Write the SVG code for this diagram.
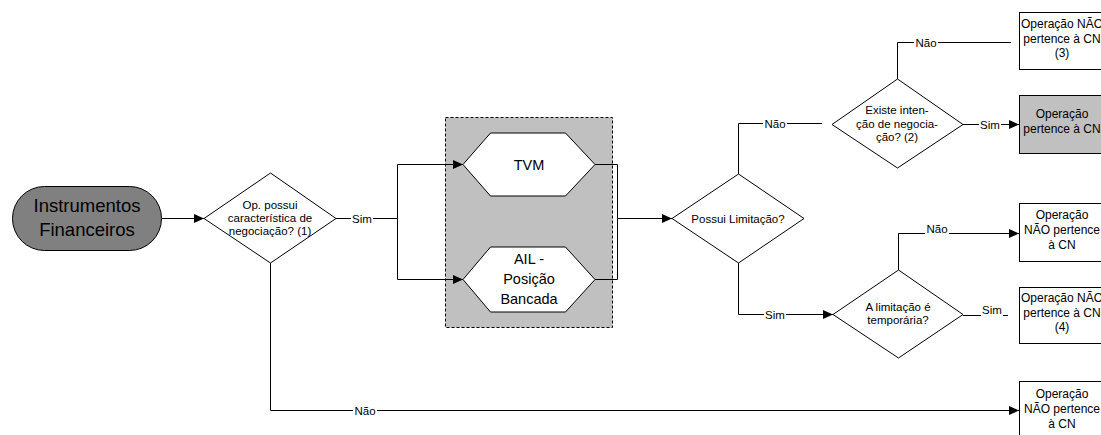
<svg xmlns="http://www.w3.org/2000/svg" width="1101" height="435" viewBox="0 0 1101 435">
  <style>
    .shape { stroke: #000; stroke-width: 1; }
    .white { fill: #fff; }
    .gray { fill: #c0c0c0; }
    .dark { fill: #808080; }
    .line { fill: none; stroke: #000; stroke-width: 1; }
    .arrow { marker-end: url(#head); }
    text { font-family: "Liberation Sans", Arial, sans-serif; fill: #000; text-anchor: middle; }
    .t115 { font-size: 11.5px; }
    .t12 { font-size: 12px; }
    .t14 { font-size: 14.5px; }
    .t19 { font-size: 18.5px; }
    .lbl { font-size: 11.5px; }
    .lblbg { fill: #fff; }
  </style>
  <defs>
    <marker id="head" markerUnits="userSpaceOnUse" markerWidth="11" markerHeight="9" refX="10" refY="4.5" orient="auto">
      <path d="M0,0 L10,4.5 L0,9 z" fill="#000"/>
    </marker>
  </defs>

  <!-- grouping frame around the two asset classes -->
  <g id="group-box">
    <rect x="445.5" y="117.5" width="167" height="210" class="gray" stroke="#000" stroke-width="1" stroke-dasharray="3,2"/>
  </g>

  <!-- connectors -->
  <g id="connectors">
    <path class="line arrow" d="M162,218.5 H204"/>
    <path class="line" d="M336,218.5 H397.5"/>
    <path class="line" d="M397.5,164.5 V279.5"/>
    <path class="line arrow" d="M397.5,164.5 H463"/>
    <path class="line arrow" d="M397.5,279.5 H463"/>
    <path class="line" d="M595,164.5 H617.5 V279.5 H595"/>
    <path class="line arrow" d="M617.5,218.5 H672"/>
    <path class="line" d="M738.5,174 V123.5 H822"/>
    <path class="line arrow" d="M738.5,263 V314.5 H833"/>
    <path class="line" d="M897.5,79 V42.5 H1011"/>
    <path class="line arrow" d="M963,124.5 H1019"/>
    <path class="line arrow" d="M898.5,270 V233.5 H1019"/>
    <path class="line" d="M963,315.5 H1008"/>
    <path class="line arrow" d="M270.5,263 V410.5 H1019"/>
  </g>

  <!-- connector labels -->
  <g id="labels">
    <rect class="lblbg" x="351" y="212" width="22" height="12"/>
    <text class="lbl" x="362" y="222.5">Sim</text>
    <rect class="lblbg" x="763" y="117" width="24" height="12"/>
    <text class="lbl" x="775" y="127.5">Não</text>
    <rect class="lblbg" x="764" y="308" width="22" height="12"/>
    <text class="lbl" x="775" y="318.5">Sim</text>
    <rect class="lblbg" x="914" y="36" width="24" height="12"/>
    <text class="lbl" x="926" y="46.5">Não</text>
    <rect class="lblbg" x="979" y="118" width="22" height="12"/>
    <text class="lbl" x="990" y="128.5">Sim</text>
    <rect class="lblbg" x="925" y="224" width="24" height="11"/>
    <text class="lbl" x="937" y="233">Não</text>
    <rect class="lblbg" x="981" y="305" width="22" height="12"/>
    <text class="lbl" x="992" y="314">Sim</text>
    <rect class="lblbg" x="353" y="404" width="24" height="12"/>
    <text class="lbl" x="365" y="414.5">Não</text>
  </g>

  <!-- start terminator -->
  <g id="instrumentos">
    <rect x="12.5" y="186.5" width="149" height="64" rx="32" ry="32" class="shape dark"/>
    <text class="t19" x="87" y="212">Instrumentos</text>
    <text class="t19" x="87" y="236">Financeiros</text>
  </g>

  <!-- decision: trading characteristic -->
  <g id="caracteristica">
    <polygon points="204,218.5 270.5,173 336,218.5 270.5,263" class="shape white"/>
    <text class="t115" x="270" y="209">Op. possui</text>
    <text class="t115" x="270" y="222">característica de</text>
    <text class="t115" x="270" y="235">negociação? (1)</text>
  </g>

  <!-- TVM -->
  <g id="tvm">
    <polygon points="463,164.5 490.5,133 565.5,133 595,164.5 565.5,196 490.5,196" class="shape white"/>
    <text class="t14" x="529" y="169.5">TVM</text>
  </g>

  <!-- AIL -->
  <g id="ail">
    <polygon points="463,279.5 490.5,247 565.5,247 595,279.5 565.5,312 490.5,312" class="shape white"/>
    <text class="t14" x="529" y="264">AIL -</text>
    <text class="t14" x="529" y="284">Posição</text>
    <text class="t14" x="529" y="304">Bancada</text>
  </g>

  <!-- decision: limitation -->
  <g id="limitacao">
    <polygon points="672,218.5 738.5,174 804,218.5 738.5,263" class="shape white"/>
    <text class="t115" x="738" y="222.5">Possui Limitação?</text>
  </g>

  <!-- decision: trading intent -->
  <g id="intencao">
    <polygon points="832,124.5 897.5,79 963,124.5 897.5,168" class="shape white"/>
    <text class="t115" x="897" y="114">Existe inten-</text>
    <text class="t115" x="897" y="127.5">ção de negocia-</text>
    <text class="t115" x="897" y="141">ção?  (2)</text>
  </g>

  <!-- decision: temporary limitation -->
  <g id="temporaria">
    <polygon points="833,314.5 898.5,270 963,314.5 898.5,358" class="shape white"/>
    <text class="t115" x="898" y="311">A limitação é</text>
    <text class="t115" x="898" y="324">temporária?</text>
  </g>

  <!-- outcome boxes -->
  <g id="nao-pertence-3">
    <rect x="1019.5" y="12.5" width="88" height="57" class="shape white"/>
    <text class="t12" x="1062" y="28">Operação NÃO</text>
    <text class="t12" x="1062" y="42.5">pertence à CN</text>
    <text class="t12" x="1062" y="57">(3)</text>
  </g>

  <g id="pertence">
    <rect x="1019.5" y="95.5" width="88" height="58" class="shape gray"/>
    <text class="t12" x="1062" y="118">Operação</text>
    <text class="t12" x="1062" y="132.5">pertence à CN</text>
  </g>

  <g id="nao-pertence-a">
    <rect x="1019.5" y="203.5" width="88" height="58" class="shape white"/>
    <text class="t12" x="1062" y="219">Operação</text>
    <text class="t12" x="1062" y="234">NÃO pertence</text>
    <text class="t12" x="1062" y="249">à CN</text>
  </g>

  <g id="nao-pertence-4">
    <rect x="1019.5" y="287.5" width="88" height="56" class="shape white"/>
    <text class="t12" x="1062" y="302">Operação NÃO</text>
    <text class="t12" x="1062" y="316.5">pertence à CN</text>
    <text class="t12" x="1062" y="331">(4)</text>
  </g>

  <g id="nao-pertence-b">
    <rect x="1019.5" y="381.5" width="88" height="60" class="shape white"/>
    <text class="t12" x="1062" y="398">Operação</text>
    <text class="t12" x="1062" y="413">NÃO pertence</text>
    <text class="t12" x="1062" y="428">à CN</text>
  </g>
</svg>
